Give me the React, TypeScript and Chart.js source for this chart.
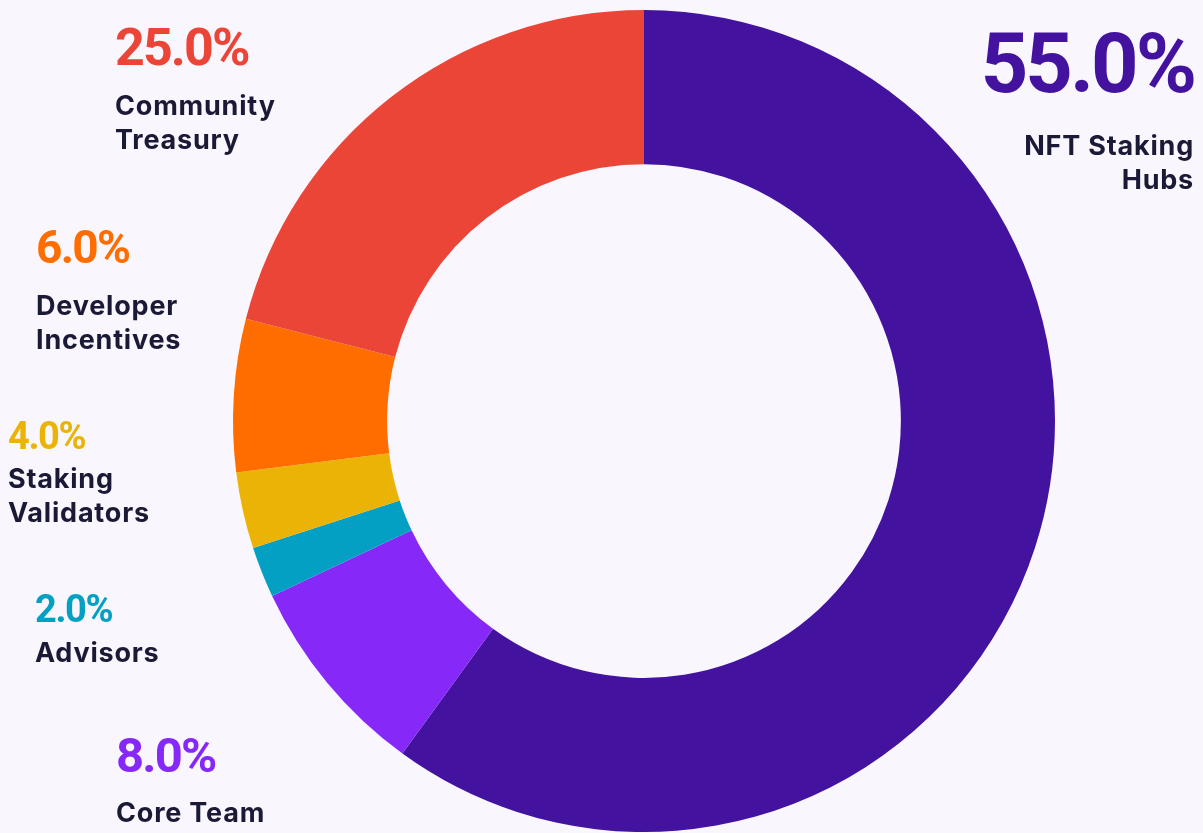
import React, { useEffect, useRef } from "react";
import { Chart, registerables } from "chart.js";

Chart.register(...registerables);

// Slices in clockwise order starting at 12 o'clock
const categories = [
  "NFT Staking Hubs",
  "Core Team",
  "Advisors",
  "Staking Validators",
  "Developer Incentives",
  "Community Treasury",
];
// Arc sizes as drawn in the picture (percent of circle)
const sliceValues = [60, 8, 2, 3, 6, 21];
// Percentage text printed next to each slice
const labelPercents = ["55.0%", "8.0%", "2.0%", "4.0%", "6.0%", "25.0%"];
const sliceColors = ["#43129F", "#8528F8", "#03A0C3", "#EBB305", "#FF6D00", "#EB4538"];

// Label layout: [x, percent baseline, percent font size, first name baseline, align, name lines]
const labelLayout: [number, number, number, number, CanvasTextAlign, string[]][] = [
  [1194, 92, 83, 155, "right", ["NFT Staking", "Hubs"]],
  [116, 772, 49, 822, "left", ["Core Team"]],
  [35, 622, 38, 662, "left", ["Advisors"]],
  [8, 449, 38, 488, "left", ["Staking", "Validators"]],
  [36, 263, 46, 315, "left", ["Developer", "Incentives"]],
  [115, 65, 52, 115, "left", ["Community", "Treasury"]],
];

const BG = "#F9F6FD";
const NAME_COLOR = "#1B1A36";

const labelsPlugin = {
  id: "sideLabels",
  afterDraw(chart: any) {
    const ctx = chart.ctx as CanvasRenderingContext2D;
    ctx.save();
    ctx.textBaseline = "alphabetic";
    labelLayout.forEach((l, i) => {
      const [x, pb, ps, nb, align, lines] = l;
      ctx.textAlign = align;
      (ctx as any).letterSpacing = `${(-0.036 * ps).toFixed(1)}px`;
      ctx.fillStyle = sliceColors[i];
      ctx.font = `700 ${ps}px Roboto, "Noto Sans", sans-serif`;
      ctx.fillText(labelPercents[i], x, pb);
      ctx.fillStyle = NAME_COLOR;
      ctx.font = `700 27px Inter, "Noto Sans", sans-serif`;
      (ctx as any).letterSpacing = "0.8px";
      lines.forEach((t, k) => ctx.fillText(t, x, nb + k * 34));
    });
    ctx.restore();
  },
};

export default function App() {
  const ref = useRef<HTMLCanvasElement | null>(null);
  useEffect(() => {
    if (!ref.current) return;
    const chart = new Chart(ref.current, {
      type: "doughnut",
      data: {
        labels: categories,
        datasets: [
          {
            data: sliceValues,
            backgroundColor: sliceColors,
            borderWidth: 0,
          },
        ],
      },
      options: {
        responsive: false,
        maintainAspectRatio: false,
        animation: false,
        cutout: "62.5%",
        rotation: 0,
        layout: { padding: { left: 233, right: 148, top: 10, bottom: 1 } },
        plugins: {
          legend: { display: false },
          tooltip: { enabled: false },
        },
      },
      plugins: [labelsPlugin],
    });
    return () => chart.destroy();
  }, []);
  return (
    <div style={{ position: "fixed", left: 0, top: 0, width: 1203, height: 833, background: BG }}>
      <canvas ref={ref} width={1203} height={833} style={{ display: "block" }} />
    </div>
  );
}
